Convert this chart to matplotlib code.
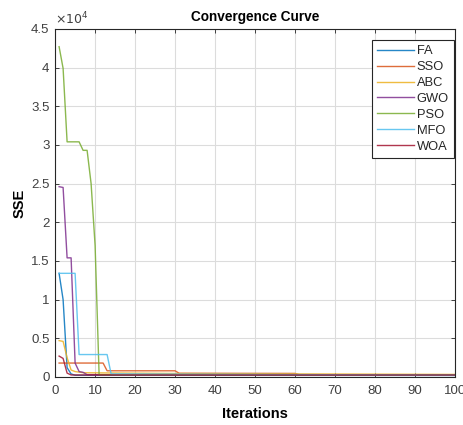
import matplotlib
matplotlib.use("Agg")
import matplotlib.pyplot as plt
from matplotlib.ticker import FuncFormatter, MultipleLocator

plt.rcParams['font.family'] = ['Liberation Sans', 'DejaVu Sans']

# Breakpoints of each convergence curve (iteration, SSE); lines join them.
fa_it = [1, 2, 3, 4, 5, 100]
fa_sse = [13400, 10000, 1200, 400, 220, 200]

sso_it = [1, 12, 13, 30, 31, 60, 61, 100]
sso_sse = [1800, 1800, 800, 800, 480, 460, 300, 290]

abc_it = [1, 2, 3, 4, 5, 7, 30, 100]
abc_sse = [4700, 4600, 2500, 900, 700, 550, 450, 330]

gwo_it = [1, 2, 3, 4, 5, 6, 7, 8, 100]
gwo_sse = [24600, 24500, 15400, 15400, 1800, 700, 600, 300, 240]

pso_it = [1, 2, 3, 6, 7, 8, 9, 10, 11, 100]
pso_sse = [42700, 39900, 30400, 30400, 29300, 29300, 25000, 17000, 300, 260]

mfo_it = [1, 5, 6, 13, 14, 100]
mfo_sse = [13400, 13400, 2900, 2900, 400, 230]

woa_it = [1, 2, 3, 4, 100]
woa_sse = [2700, 2400, 500, 260, 250]

names = ['FA', 'SSO', 'ABC', 'GWO', 'PSO', 'MFO', 'WOA']
colors = ['#0072BD', '#D95319', '#EDB120', '#7E2F8E', '#77AC30', '#4DBEEE', '#A2142F']
curves = [(fa_it, fa_sse), (sso_it, sso_sse), (abc_it, abc_sse), (gwo_it, gwo_sse),
          (pso_it, pso_sse), (mfo_it, mfo_sse), (woa_it, woa_sse)]

fig = plt.figure(figsize=(4.63, 4.25), dpi=100)
ax = fig.add_axes([0.119, 0.113, 0.864, 0.819])

for (it, sse), name, c in zip(curves, names, colors):
    ax.plot(it, sse, color=c, lw=1.0, alpha=0.85, label=name)

ax.set_xlim(0, 100)
ax.set_ylim(0, 45000)
ax.xaxis.set_major_locator(MultipleLocator(10))
ax.yaxis.set_major_locator(MultipleLocator(5000))
ax.yaxis.set_major_formatter(FuncFormatter(lambda v, _: f'{v / 1e4:g}'))
ax.grid(True, color='#dcdcdc', lw=0.8)
ax.set_axisbelow(True)
ax.tick_params(direction='in', top=True, right=True, length=3, width=0.6,
               labelsize=9.5, labelcolor='#404040', color='#262626')
ax.tick_params(axis='x', pad=6)
ax.tick_params(axis='y', pad=4)
for s in ax.spines.values():
    s.set_color('#262626')
    s.set_linewidth(0.8)

ax.text(0.0, 1.005, r'$\times10^{4}$', transform=ax.transAxes, fontsize=9,
        color='#404040', ha='left', va='bottom')
ax.set_title('Convergence Curve', fontsize=9.8, fontweight='bold', pad=6)
ax.set_xlabel('Iterations', fontsize=10.5, fontweight='bold', labelpad=7)
ax.set_ylabel('SSE', fontsize=10.5, fontweight='bold', labelpad=3)

leg = ax.legend(loc='upper right', bbox_to_anchor=(0.9975, 0.968), borderaxespad=0,
                fontsize=9.3, handlelength=2.9, handletextpad=0.2, labelspacing=0.3,
                fancybox=False, framealpha=1, edgecolor='#262626', borderpad=0.4)
leg.get_frame().set_linewidth(0.8)
for t in leg.get_texts():
    t.set_color('#262626')

fig.savefig('out.png', dpi=100)
